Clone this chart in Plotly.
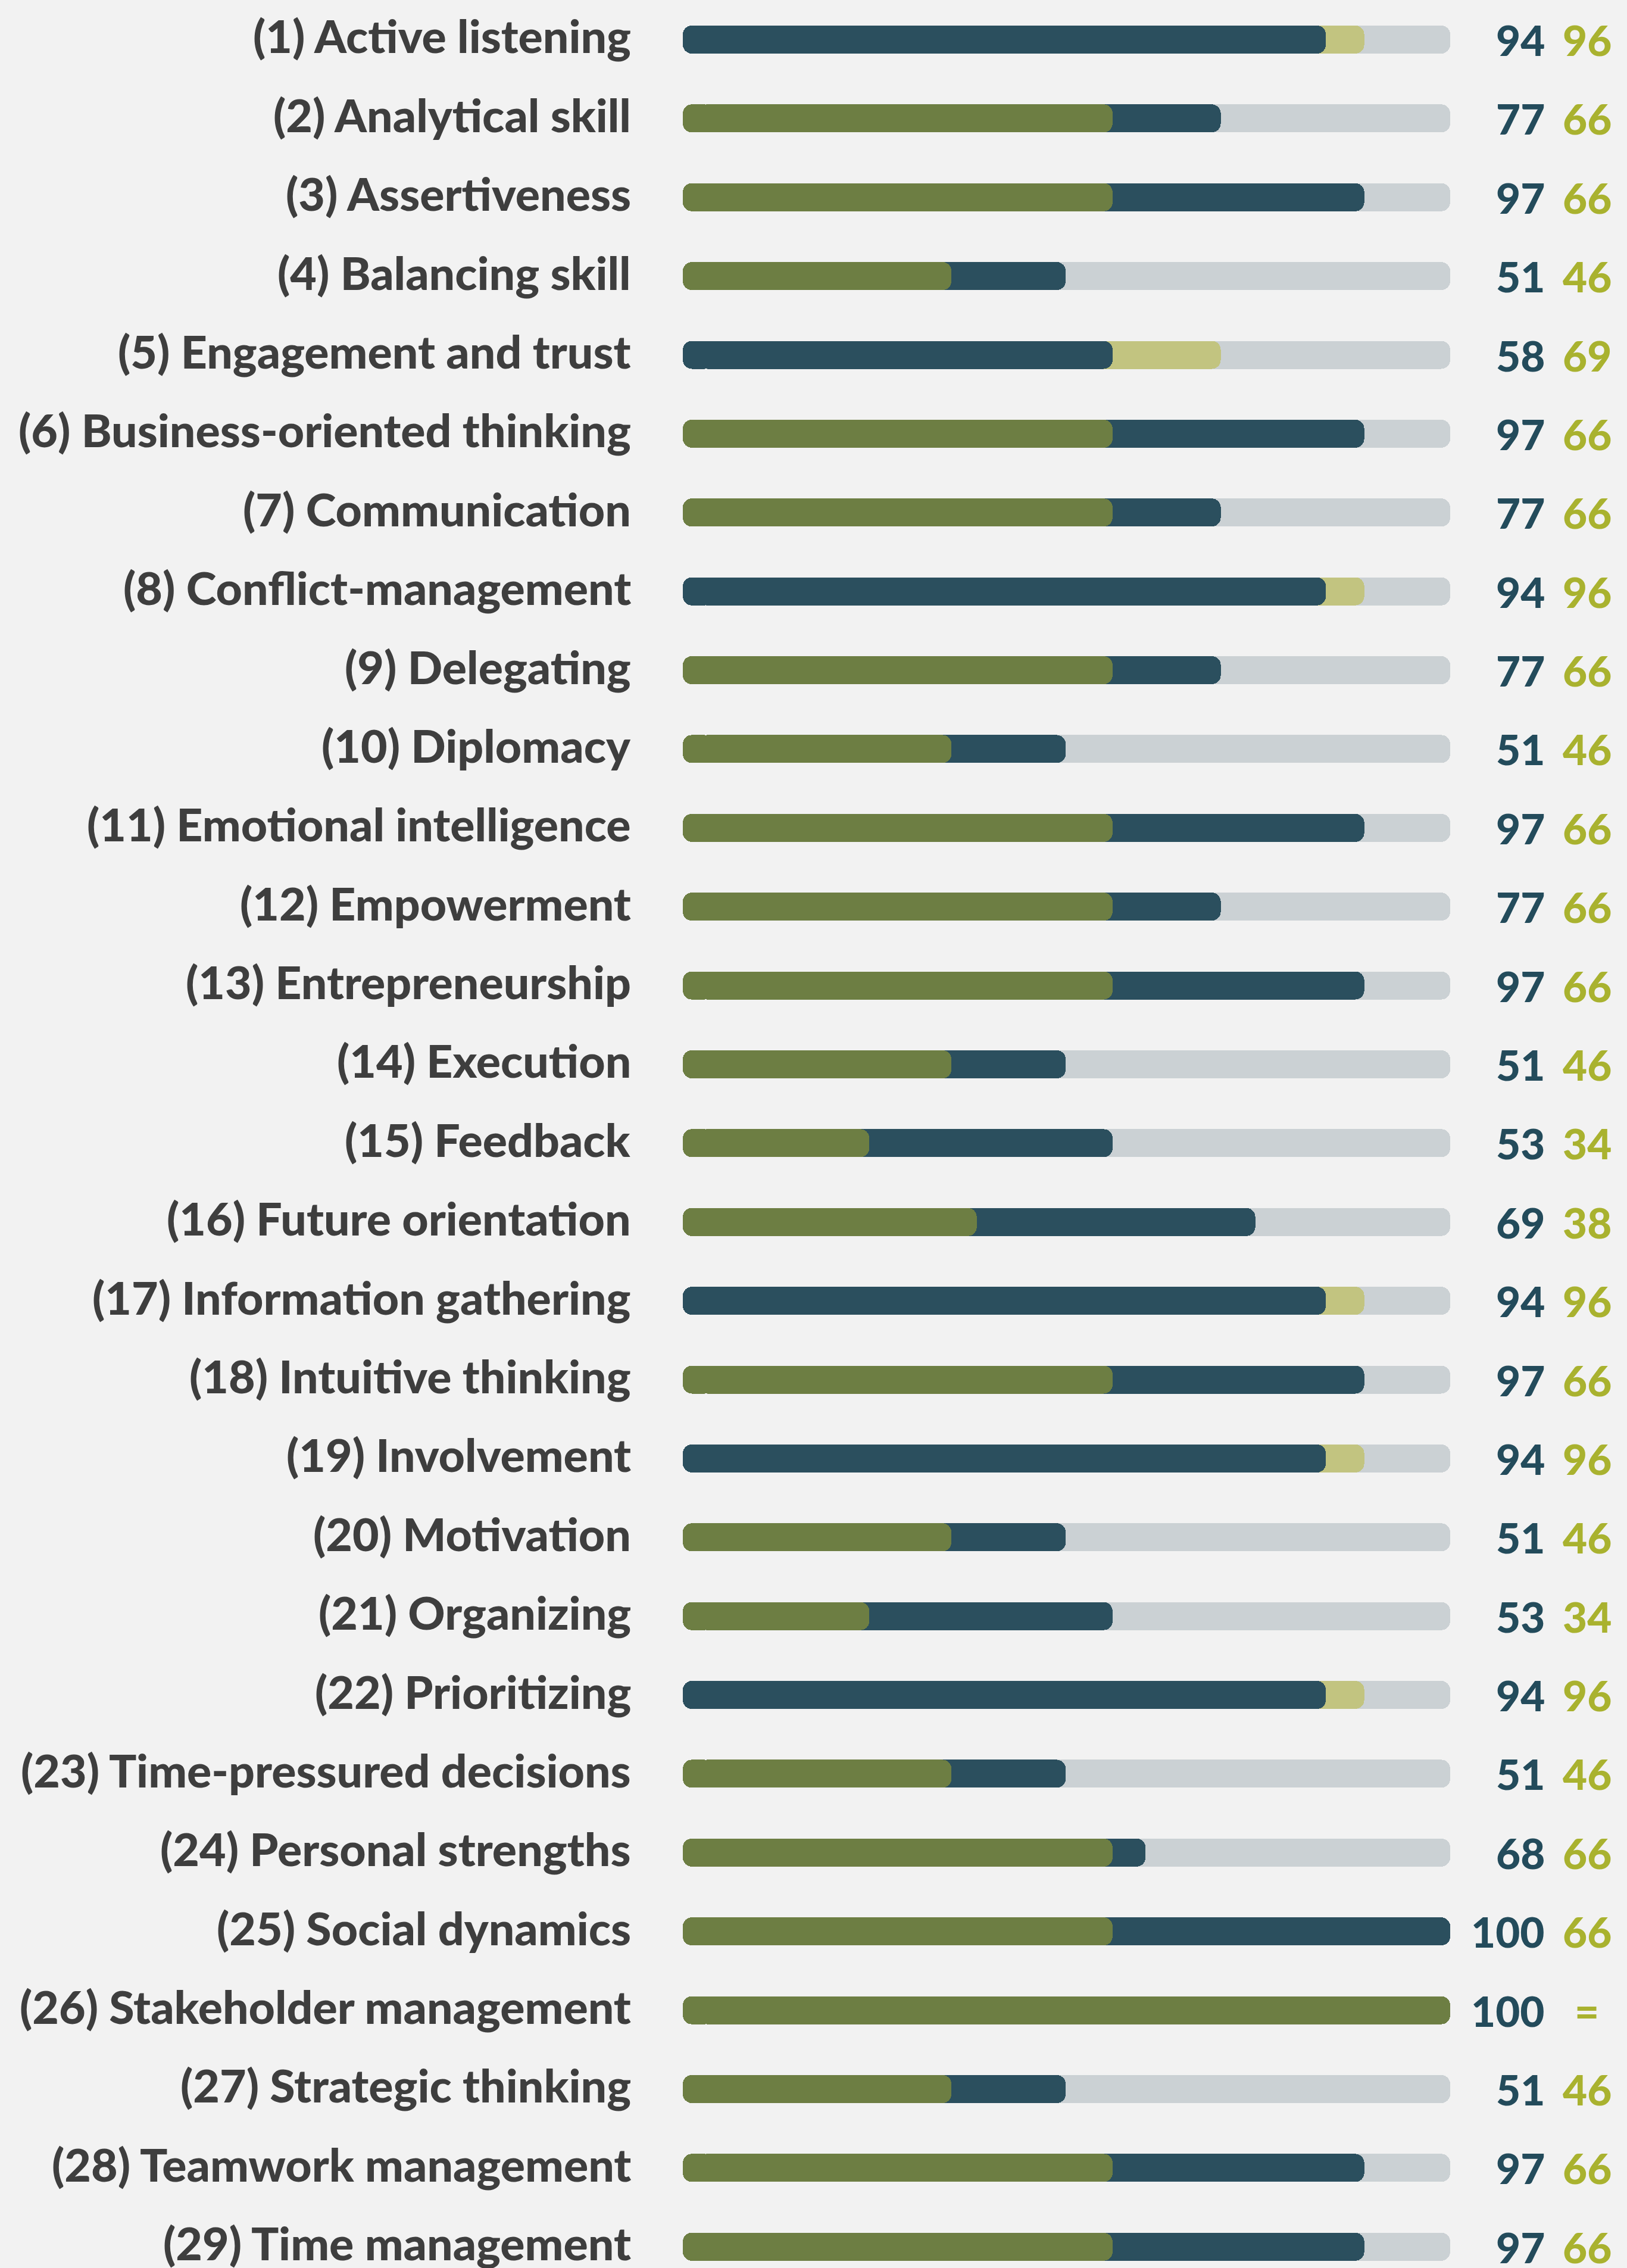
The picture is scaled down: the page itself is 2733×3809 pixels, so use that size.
import plotly.graph_objects as go

# ---------------- data ----------------
skills = [
    "(1) Active listening", "(2) Analytical skill", "(3) Assertiveness",
    "(4) Balancing skill", "(5) Engagement and trust", "(6) Business-oriented thinking",
    "(7) Communication", "(8) Conflict-management", "(9) Delegating",
    "(10) Diplomacy", "(11) Emotional intelligence", "(12) Empowerment",
    "(13) Entrepreneurship", "(14) Execution", "(15) Feedback",
    "(16) Future orientation", "(17) Information gathering", "(18) Intuitive thinking",
    "(19) Involvement", "(20) Motivation", "(21) Organizing",
    "(22) Prioritizing", "(23) Time-pressured decisions", "(24) Personal strengths",
    "(25) Social dynamics", "(26) Stakeholder management", "(27) Strategic thinking",
    "(28) Teamwork management", "(29) Time management",
]
dark_labels = ["94", "77", "97", "51", "58", "97", "77", "94", "77", "51", "97", "77", "97", "51", "53",
               "69", "94", "97", "94", "51", "53", "94", "51", "68", "100", "100", "51", "97", "97"]
green_labels = ["96", "66", "66", "46", "69", "66", "66", "96", "66", "46", "66", "66", "66", "46", "34",
                "38", "96", "66", "96", "46", "34", "96", "46", "66", "66", "=", "46", "66", "66"]
# bar lengths as drawn (percent of the track)
dark_bar = [83.8, 70.1, 88.8, 49.9, 56.0, 88.8, 70.1, 83.8, 70.1, 49.9, 88.8, 70.1, 88.8, 49.9, 56.0,
            74.6, 83.8, 88.8, 83.8, 49.9, 56.0, 83.8, 49.9, 60.3, 100.0, 100.0, 49.9, 88.8, 88.8]
green_bar = [88.8, 56.0, 56.0, 35.0, 70.1, 56.0, 56.0, 88.8, 56.0, 35.0, 56.0, 56.0, 56.0, 35.0, 24.3,
             38.3, 88.8, 56.0, 88.8, 35.0, 24.3, 88.8, 35.0, 56.0, 56.0, 100.0, 35.0, 56.0, 56.0]
track_max = 100

# ---------------- style ----------------
BG = "#f2f2f2"
TRACK = "#cbd1d4"
DARK = "#2b4f5e"
OLIVE = "#6d7e43"
LIGHT_OLIVE = "#c2c480"
LABEL_COLOR = "#3e3e3e"
NUM_DARK = "#234b5b"
NUM_GREEN = "#a9b22f"
FONT = "Lato"

W, H = 2733, 3809
ML, MR = 1147, 297
BAR_W = 0.355
RADIUS = 15
CAP = 4.0  # length of left rounded cap (data units)

n = len(skills)
ys = list(range(n))

back_vals, back_cols, front_vals, front_cols = [], [], [], []
for d, g in zip(dark_bar, green_bar):
    if d > g:
        back_vals.append(d); back_cols.append(DARK)
        front_vals.append(g); front_cols.append(OLIVE)
    elif g > d:
        back_vals.append(g); back_cols.append(LIGHT_OLIVE)
        front_vals.append(d); front_cols.append(DARK)
    else:
        back_vals.append(g); back_cols.append(OLIVE)
        front_vals.append(d); front_cols.append(OLIVE)

fig = go.Figure()


def add_layer(vals, cols):
    # main part: rounded at the right end
    fig.add_trace(go.Bar(
        y=ys, x=[v - CAP / 2 for v in vals], base=[CAP / 2] * n, orientation="h",
        width=BAR_W, marker=dict(color=cols, line=dict(width=0), cornerradius=RADIUS),
        hoverinfo="skip", showlegend=False))
    # left cap: rounded at the left end
    fig.add_trace(go.Bar(
        y=ys, x=[-CAP] * n, base=[CAP] * n, orientation="h",
        width=BAR_W, marker=dict(color=cols, line=dict(width=0), cornerradius=RADIUS),
        hoverinfo="skip", showlegend=False))


add_layer([track_max] * n, [TRACK] * n)
add_layer(back_vals, back_cols)
add_layer(front_vals, front_cols)

annotations = []
for i in range(n):
    annotations.append(dict(
        x=-0.066, y=i, xref="paper", yref="y", text=skills[i], showarrow=False,
        xanchor="right", yanchor="middle", yshift=7,
        font=dict(family=FONT, size=77, color=LABEL_COLOR, weight=900)))
    annotations.append(dict(
        x=1.1249, y=i, xref="paper", yref="y", text=dark_labels[i], showarrow=False,
        xanchor="right", yanchor="middle",
        font=dict(family=FONT, size=71, color=NUM_DARK, weight=900)))
    annotations.append(dict(
        x=1.1784, y=i, xref="paper", yref="y", text=green_labels[i], showarrow=False,
        xanchor="center", yanchor="middle",
        font=dict(family=FONT, size=71, color=NUM_GREEN, weight=900)))

fig.update_layout(
    width=W, height=H, autosize=False,
    margin=dict(l=ML, r=MR, t=0, b=0, pad=0),
    paper_bgcolor=BG, plot_bgcolor=BG,
    barmode="overlay", bargap=0,
    showlegend=False,
    annotations=annotations,
    xaxis=dict(range=[0, track_max], visible=False, fixedrange=True),
    yaxis=dict(range=[28.27, -0.502], visible=False, fixedrange=True),
    font=dict(family=FONT),
)

fig.write_html(
    "out.html",
    config={"displayModeBar": False, "staticPlot": True},
    post_script="document.body.style.margin='0';document.body.style.background='%s';"
                "document.body.style.overflow='hidden';" % BG,
)
